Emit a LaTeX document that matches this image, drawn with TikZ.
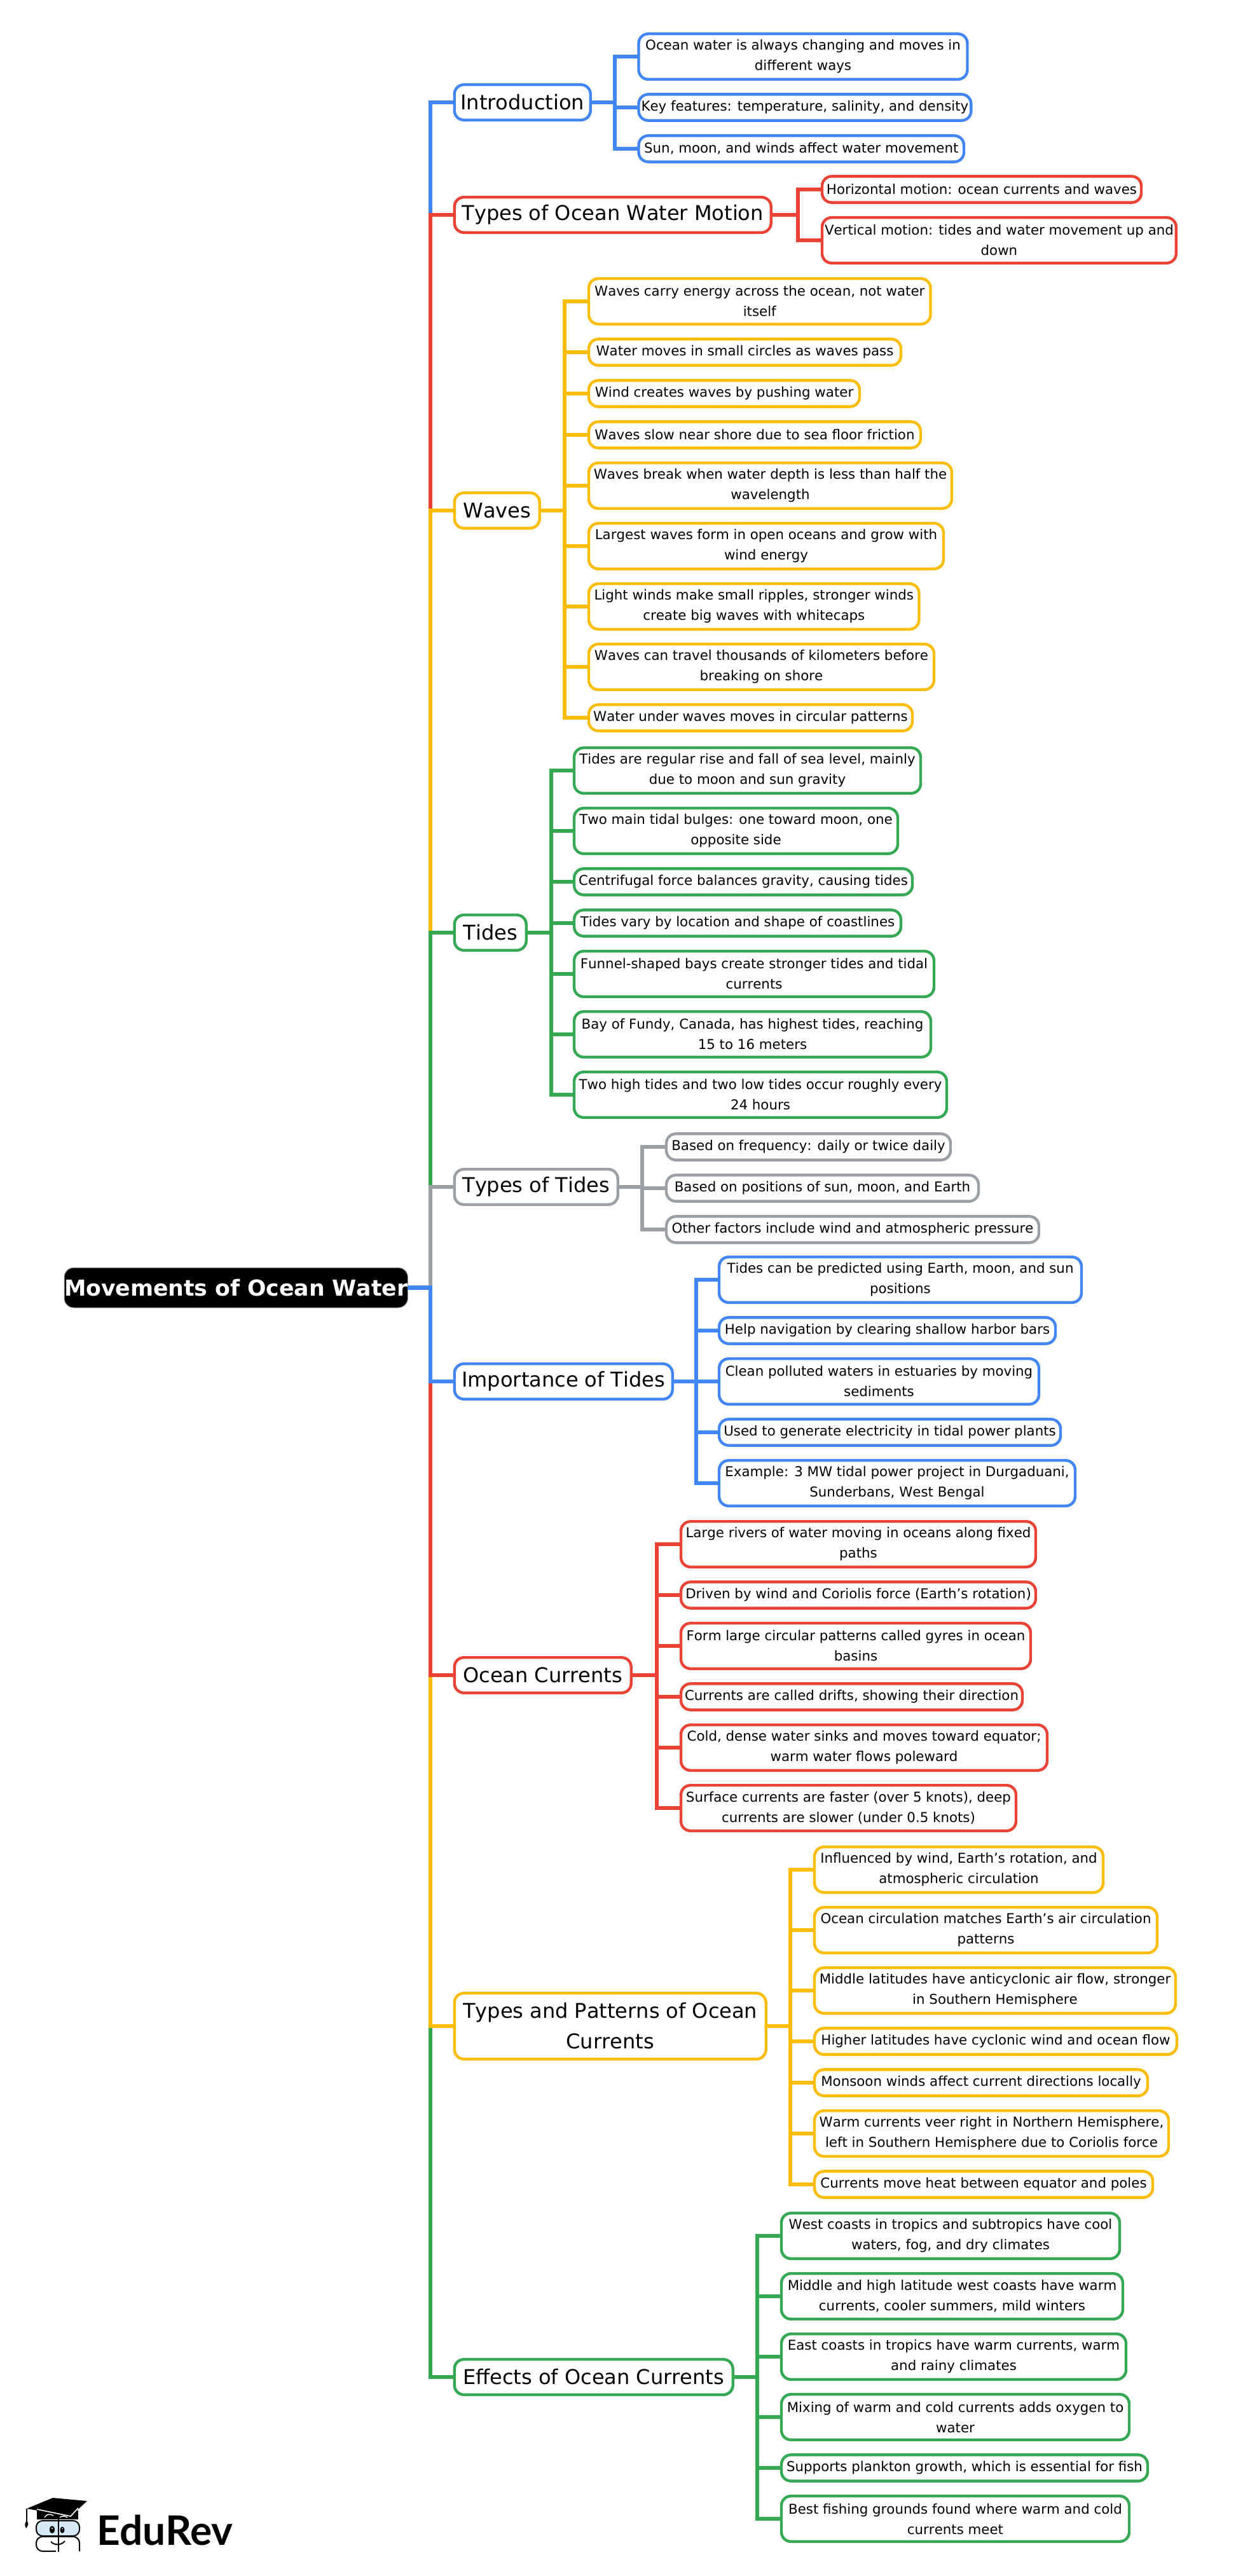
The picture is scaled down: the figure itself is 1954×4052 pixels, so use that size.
\documentclass[tikz,border=0pt]{standalone}
\usepackage{fontspec}
\setmainfont[Kerning=Off]{DejaVu Sans}
\newfontfamily\logofont{Lato}
\definecolor{cblue}{HTML}{4285F4}
\definecolor{cred}{HTML}{EA4335}
\definecolor{cyellow}{HTML}{FBBC04}
\definecolor{cgreen}{HTML}{34A853}
\definecolor{cgray}{HTML}{9AA0A6}
\definecolor{cbook}{HTML}{D5E8F5}
\tikzset{
  wd/.style={minimum width=#1*0.5pt},
  rootbox/.style={draw=cgray,line width=0.5pt,fill=black,text=white,rounded corners=7.5pt,font=\fontsize{17.3}{24}\selectfont\bfseries,minimum height=31.5pt,inner xsep=0pt,inner ysep=0pt,outer sep=0pt,anchor=west},
  topic/.style={draw,line width=2.2pt,rounded corners=7.5pt,font=\fontsize{16}{24}\selectfont,align=center,minimum height=27.8pt,inner xsep=3pt,inner ysep=0pt,outer sep=0pt,anchor=west},
  topictwo/.style={topic,minimum height=51.8pt},
  leaf/.style={draw,line width=2.2pt,rounded corners=7.5pt,font=\fontsize{10.67}{16}\selectfont,align=center,minimum height=20.6pt,inner xsep=2pt,inner ysep=0pt,outer sep=0pt,anchor=west},
  leaftwo/.style={leaf,minimum height=35.8pt},
  branch/.style={line width=3.2pt}
}
\begin{document}
\begin{tikzpicture}[x=0.5pt,y=-0.5pt]
\useasboundingbox (0,0) rectangle (1954,4052);
\fill[white] (0,0) rectangle (1954,4052);
\node[rootbox,wd=540] (root) at (101,2025.5) {Movements of Ocean Water};
\node[topic,draw=cblue,wd=214] (intro) at (714.7,161) {Introduction};
\node[topic,draw=cred,wd=498] (motion) at (714.7,338) {Types of Ocean Water Motion};
\node[topic,draw=cyellow,wd=134] (waves) at (714.7,803) {Waves};
\node[topic,draw=cgreen,wd=113] (tides) at (714.7,1467) {Tides};
\node[topic,draw=cgray,wd=257] (kinds) at (714.7,1867) {Types of Tides};
\node[topic,draw=cblue,wd=343] (uses) at (714.7,2173) {Importance of Tides};
\node[topic,draw=cred,wd=278] (currents) at (714.7,2635) {Ocean Currents};
\node[topictwo,draw=cyellow,wd=490] (patterns) at (714.7,3187) {Types and Patterns of Ocean\\Currents};
\node[topic,draw=cgreen,wd=438] (effects) at (714.7,3739) {Effects of Ocean Currents};
\node[leaftwo,draw=cblue,wd=517] (intro1) at (1004.5,89) {Ocean water is always changing and moves in\\different ways};
\node[leaf,draw=cblue,wd=521.5] (intro2) at (1004.5,169) {Key features: temperature, salinity, and density};
\node[leaf,draw=cblue,wd=511.5] (intro3) at (1004.5,234) {Sun, moon, and winds affect water movement};
\node[leaf,draw=cred,wd=502] (motion1) at (1293,298) {Horizontal motion: ocean currents and waves};
\node[leaftwo,draw=cred,wd=555] (motion2) at (1293,378) {Vertical motion: tides and water movement up and\\down};
\node[leaftwo,draw=cyellow,wd=537.5] (waves1) at (926,474) {Waves carry energy across the ocean, not water\\itself};
\node[leaf,draw=cyellow,wd=491] (waves2) at (926,554) {Water moves in small circles as waves pass};
\node[leaf,draw=cyellow,wd=426] (waves3) at (926,619) {Wind creates waves by pushing water};
\node[leaf,draw=cyellow,wd=522] (waves4) at (926,684) {Waves slow near shore due to sea floor friction};
\node[leaftwo,draw=cyellow,wd=571] (waves5) at (926,764) {Waves break when water depth is less than half the\\wavelength};
\node[leaftwo,draw=cyellow,wd=558] (waves6) at (926,859) {Largest waves form in open oceans and grow with\\wind energy};
\node[leaftwo,draw=cyellow,wd=519.5] (waves7) at (926,954) {Light winds make small ripples, stronger winds\\create big waves with whitecaps};
\node[leaftwo,draw=cyellow,wd=543] (waves8) at (926,1049) {Waves can travel thousands of kilometers before\\breaking on shore};
\node[leaf,draw=cyellow,wd=509] (waves9) at (926,1129) {Water under waves moves in circular patterns};
\node[leaftwo,draw=cgreen,wd=545] (tides1) at (903,1212) {Tides are regular rise and fall of sea level, mainly\\due to moon and sun gravity};
\node[leaftwo,draw=cgreen,wd=509] (tides2) at (903,1307) {Two main tidal bulges: one toward moon, one\\opposite side};
\node[leaf,draw=cgreen,wd=532] (tides3) at (903,1387) {Centrifugal force balances gravity, causing tides};
\node[leaf,draw=cgreen,wd=514] (tides4) at (903,1452) {Tides vary by location and shape of coastlines};
\node[leaftwo,draw=cgreen,wd=566] (tides5) at (903,1532) {Funnel-shaped bays create stronger tides and tidal\\currents};
\node[leaftwo,draw=cgreen,wd=561] (tides6) at (903,1627) {Bay of Fundy, Canada, has highest tides, reaching\\15 to 16 meters};
\node[leaftwo,draw=cgreen,wd=586] (tides7) at (903,1722) {Two high tides and two low tides occur roughly every\\24 hours};
\node[leaf,draw=cgray,wd=447] (kinds1) at (1048,1804) {Based on frequency: daily or twice daily};
\node[leaf,draw=cgray,wd=491] (kinds2) at (1048,1869) {Based on positions of sun, moon, and Earth};
\node[leaf,draw=cgray,wd=586] (kinds3) at (1048,1934) {Other factors include wind and atmospheric pressure};
\node[leaftwo,draw=cblue,wd=570] (uses1) at (1131,2013) {Tides can be predicted using Earth, moon, and sun\\positions};
\node[leaf,draw=cblue,wd=529] (uses2) at (1131,2093) {Help navigation by clearing shallow harbor bars};
\node[leaftwo,draw=cblue,wd=503] (uses3) at (1131,2173) {Clean polluted waters in estuaries by moving\\sediments};
\node[leaf,draw=cblue,wd=537] (uses4) at (1131,2253) {Used to generate electricity in tidal power plants};
\node[leaftwo,draw=cblue,wd=560] (uses5) at (1131,2333) {Example: 3 MW tidal power project in Durgaduani,\\Sunderbans, West Bengal};
\node[leaftwo,draw=cred,wd=558] (currents1) at (1071,2429) {Large rivers of water moving in oceans along fixed\\paths};
\node[leaf,draw=cred,wd=558] (currents2) at (1071,2509) {Driven by wind and Coriolis force (Earth’s rotation)};
\node[leaftwo,draw=cred,wd=550] (currents3) at (1071,2589) {Form large circular patterns called gyres in ocean\\basins};
\node[leaf,draw=cred,wd=537] (currents4) at (1071,2669) {Currents are called drifts, showing their direction};
\node[leaftwo,draw=cred,wd=576] (currents5) at (1071,2749) {Cold, dense water sinks and moves toward equator;\\warm water flows poleward};
\node[leaftwo,draw=cred,wd=527] (currents6) at (1071,2844) {Surface currents are faster (over 5 knots), deep\\currents are slower (under 0.5 knots)};
\node[leaftwo,draw=cyellow,wd=454] (patterns1) at (1281,2941) {Influenced by wind, Earth’s rotation, and\\atmospheric circulation};
\node[leaftwo,draw=cyellow,wd=539] (patterns2) at (1281,3036) {Ocean circulation matches Earth’s air circulation\\patterns};
\node[leaftwo,draw=cyellow,wd=568] (patterns3) at (1281,3131) {Middle latitudes have anticyclonic air flow, stronger\\in Southern Hemisphere};
\node[leaf,draw=cyellow,wd=570] (patterns4) at (1281,3211) {Higher latitudes have cyclonic wind and ocean flow};
\node[leaf,draw=cyellow,wd=524] (patterns5) at (1281,3276) {Monsoon winds affect current directions locally};
\node[leaftwo,draw=cyellow,wd=557] (patterns6) at (1281,3356) {Warm currents veer right in Northern Hemisphere,\\left in Southern Hemisphere due to Coriolis force};
\node[leaf,draw=cyellow,wd=532] (patterns7) at (1281,3436) {Currents move heat between equator and poles};
\node[leaftwo,draw=cgreen,wd=532] (effects1) at (1229,3517) {West coasts in tropics and subtropics have cool\\waters, fog, and dry climates};
\node[leaftwo,draw=cgreen,wd=537] (effects2) at (1229,3612) {Middle and high latitude west coasts have warm\\currents, cooler summers, mild winters};
\node[leaftwo,draw=cgreen,wd=542] (effects3) at (1229,3707) {East coasts in tropics have warm currents, warm\\and rainy climates};
\node[leaftwo,draw=cgreen,wd=547] (effects4) at (1229,3802) {Mixing of warm and cold currents adds oxygen to\\water};
\node[leaf,draw=cgreen,wd=576] (effects5) at (1229,3882) {Supports plankton growth, which is essential for fish};
\node[leaftwo,draw=cgreen,wd=547] (effects6) at (1229,3962) {Best fishing grounds found where warm and cold\\currents meet};
\coordinate (trunk) at (676.7,2025.5);
\coordinate (introbus) at (967,161);
\coordinate (motionbus) at (1255,338);
\coordinate (wavesbus) at (888,803);
\coordinate (tidesbus) at (867,1467);
\coordinate (kindsbus) at (1010,1867);
\coordinate (usesbus) at (1095,2173);
\coordinate (currentsbus) at (1033,2635);
\coordinate (patternsbus) at (1243,3187);
\coordinate (effectsbus) at (1191,3739);
\draw[branch,cblue] (root.east) -- (trunk) |- (intro.west);
\draw[branch,cred] (root.east) -- (trunk) |- (motion.west);
\draw[branch,cyellow] (root.east) -- (trunk) |- (waves.west);
\draw[branch,cgreen] (root.east) -- (trunk) |- (tides.west);
\draw[branch,cgray] (root.east) -- (trunk) |- (kinds.west);
\draw[branch,cgreen] (root.east) -- (trunk) |- (effects.west);
\draw[branch,cyellow] (root.east) -- (trunk) |- (patterns.west);
\draw[branch,cred] (root.east) -- (trunk) |- (currents.west);
\draw[branch,cblue] (root.east) -- (trunk) |- (uses.west);
\foreach \i in {1,2,3}
  {\draw[branch,cblue] (intro.east) -- (introbus) |- (intro\i.west);}
\foreach \i in {1,2}
  {\draw[branch,cred] (motion.east) -- (motionbus) |- (motion\i.west);}
\foreach \i in {1,...,9}
  {\draw[branch,cyellow] (waves.east) -- (wavesbus) |- (waves\i.west);}
\foreach \i in {1,...,7}
  {\draw[branch,cgreen] (tides.east) -- (tidesbus) |- (tides\i.west);}
\foreach \i in {1,2,3}
  {\draw[branch,cgray] (kinds.east) -- (kindsbus) |- (kinds\i.west);}
\foreach \i in {1,...,5}
  {\draw[branch,cblue] (uses.east) -- (usesbus) |- (uses\i.west);}
\foreach \i in {1,...,6}
  {\draw[branch,cred] (currents.east) -- (currentsbus) |- (currents\i.west);}
\foreach \i in {1,...,7}
  {\draw[branch,cyellow] (patterns.east) -- (patternsbus) |- (patterns\i.west);}
\foreach \i in {1,...,6}
  {\draw[branch,cgreen] (effects.east) -- (effectsbus) |- (effects\i.west);}
\fill[black] (58,3949) -- (58,3963) -- (123,3963) -- (123,3949) -- cycle;
\fill[black] (42,3946) -- (83,3929) -- (137,3934) -- (111,3958) -- cycle;
\draw[white,line width=0.8pt] (58,3947) -- (111,3958) -- (123,3945);
\draw[black,line width=0.6pt] (42,3946) -- (42,3966);
\fill[black] (42,3965) .. controls (38,3969) and (39,3973) .. (41,3977) .. controls (44,3973) and (46,3969) .. (42,3965);
\draw[white,line width=0.7pt] (70,3960) .. controls (73,3954) and (79,3954) .. (84,3957);
\draw[white,line width=0.7pt] (94,3960) .. controls (97,3957) and (102,3957) .. (106,3960);
\draw[black,line width=1pt,fill=cbook,rounded corners=5pt] (57,3965) rectangle (125,3989);
\draw[black,line width=1pt,rounded corners=5pt] (88,4013) -- (57,4013) -- (57,3990) -- (125,3990) -- (125,4013);
\draw[black,line width=1pt] (91.5,3963) -- (91.5,4014);
\fill[black] (82,3979) ellipse (4 and 6);
\fill[black] (98,3979.5) ellipse (3.5 and 5);
\fill[white] (82,3977) circle (1.2);
\fill[white] (98,3977.5) circle (1);
\draw[black,line width=1pt] (80,3998) .. controls (86,4004) and (96,4004) .. (102,3997);
\node[anchor=west,inner sep=0pt,font=\logofont\fontsize{32}{32}\selectfont\bfseries] (logo) at (152,3980) {EduRev};
\end{tikzpicture}
\end{document}
